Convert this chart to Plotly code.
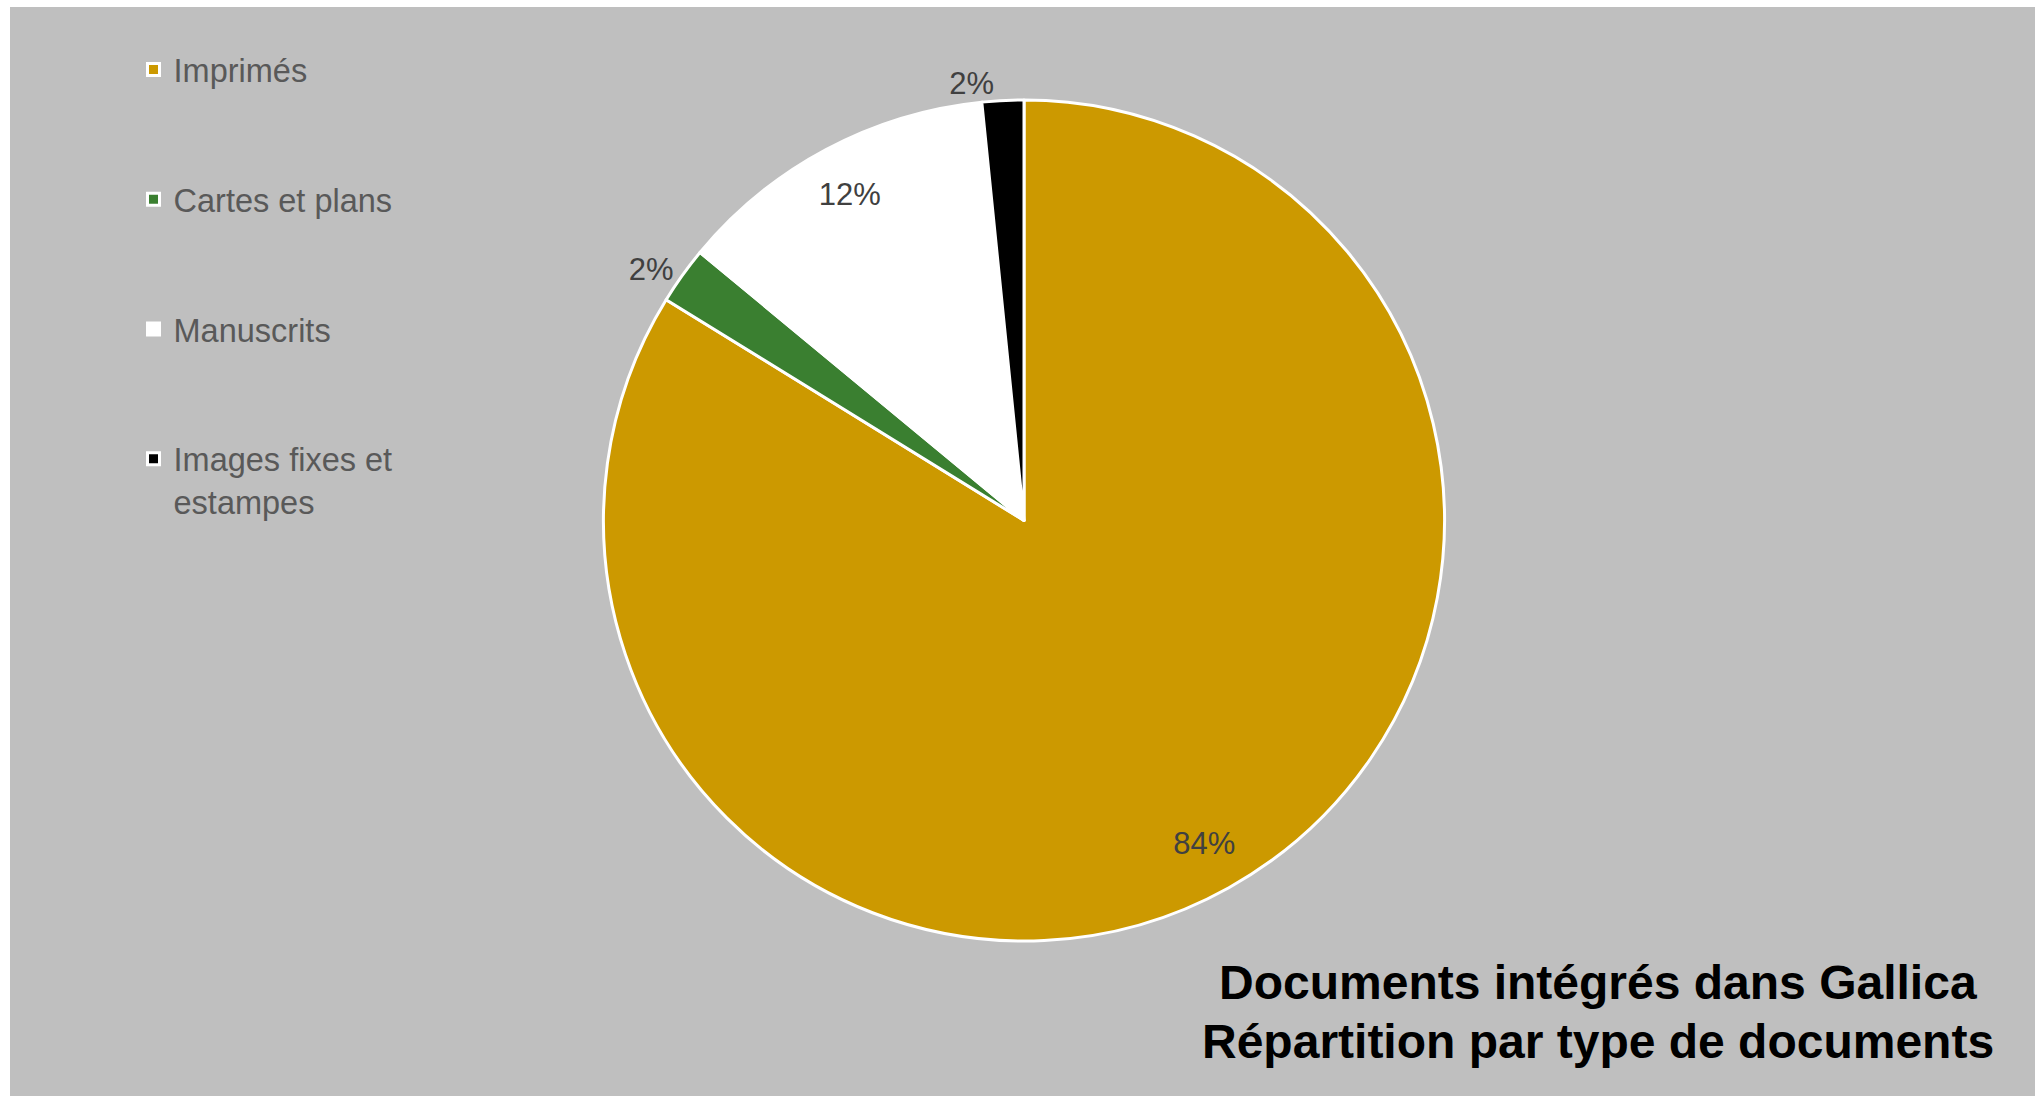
import plotly.graph_objects as go

categories = ["Imprimés", "Cartes et plans", "Manuscrits", "Images fixes et<br>estampes"]
values = [83.8, 2.2, 12.4, 1.6]
colors = ["#CC9900", "#3A7F30", "#FFFFFF", "#000000"]
text_positions = ["inside", "outside", "inside", "outside"]
title_lines = ["Documents intégrés dans Gallica", "Répartition par type de documents"]

W, H = 2025, 1089
cx, cy, R = 1014, 513.5, 420.5
FONT = "Liberation Sans, Arial, sans-serif"
domain = dict(x=[(cx - R) / W, (cx + R) / W], y=[(H - cy - R) / H, (H - cy + R) / H])

# pad legend entries so they are spread like in the original
legend_labels = [c if "<br>" in c else c + "<br> <br> " for c in categories]

fig = go.Figure()
# the pie itself (carries the legend)
fig.add_trace(go.Pie(
    labels=legend_labels,
    values=values,
    sort=False,
    direction="clockwise",
    rotation=0,
    marker=dict(colors=colors, line=dict(color="#FFFFFF", width=3)),
    textinfo="none",
    domain=domain,
    hoverinfo="label+percent",
))
# transparent ring on top, only used to place the percentage labels near the rim
fig.add_trace(go.Pie(
    labels=legend_labels,
    values=values,
    sort=False,
    direction="clockwise",
    rotation=0,
    hole=0.76,
    marker=dict(colors=["rgba(0,0,0,0)"] * len(values), line=dict(width=0)),
    texttemplate="%{percent:.0%}",
    textposition=text_positions,
    insidetextorientation="horizontal",
    textfont=dict(family=FONT, size=31, color="#404040"),
    domain=domain,
    showlegend=False,
    hoverinfo="skip",
))

title_y = [975.5, 1034]
fig.update_layout(
    width=W, height=H,
    margin=dict(l=0, r=0, t=0, b=0),
    paper_bgcolor="#BFBFBF",
    plot_bgcolor="#BFBFBF",
    showlegend=True,
    legend=dict(
        x=0.061, y=0.968, xanchor="left", yanchor="top",
        valign="top",
        font=dict(family=FONT, size=32.5, color="#595959"),
        bgcolor="rgba(0,0,0,0)",
        itemclick=False, itemdoubleclick=False,
    ),
    annotations=[dict(
        text="<b>%s</b>" % t,
        xref="paper", yref="paper", x=1588 / W, y=1 - ty / H,
        xanchor="center", yanchor="middle", align="center", showarrow=False,
        font=dict(family=FONT, size=48, color="#000000"),
    ) for t, ty in zip(title_lines, title_y)],
)

fig.write_html(
    "out.html",
    config={"displayModeBar": False},
    post_script="document.body.style.margin='7px 0 0 10px';document.body.style.overflow='hidden';",
)
